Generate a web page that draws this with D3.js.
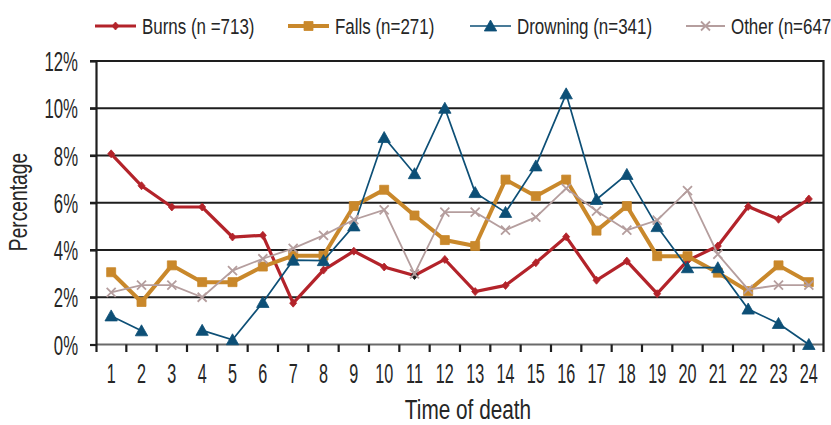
<!DOCTYPE html>
<html><head><meta charset="utf-8">
<script src="https://cdn.jsdelivr.net/npm/d3@7"></script>
<style>
body{margin:0;background:#fff}
svg{display:block}
text{font-family:"Liberation Sans",Arial,sans-serif;fill:#262626}
</style>
</head><body>
<svg id="c" width="831" height="425"></svg>
<script>
// ---- data ----
const hours = [1,2,3,4,5,6,7,8,9,10,11,12,13,14,15,16,17,18,19,20,21,22,23,24];
const burns = [8.07,6.72,5.82,5.82,4.55,4.62,1.75,3.15,3.95,3.28,2.92,3.6,2.24,2.5,3.46,4.56,2.72,3.53,2.15,3.55,4.17,5.84,5.3,6.16];
const falls = [3.06,1.8,3.35,2.64,2.64,3.3,3.76,3.76,5.86,6.55,5.46,4.42,4.17,6.98,6.28,6.98,4.82,5.86,3.74,3.74,3.04,2.26,3.35,2.64];
const drowning = [1.21,0.58,null,0.6,0.2,1.78,3.57,3.55,5.02,8.76,7.23,10.0,6.43,5.59,7.56,10.61,6.14,7.2,4.99,3.25,3.25,1.5,0.89,0.0];
const other = [2.21,2.51,2.51,2.0,3.13,3.63,4.07,4.62,5.28,5.7,2.99,5.6,5.6,4.84,5.39,6.61,5.65,4.84,5.26,6.51,3.82,2.33,2.51,2.51];
const seriesLabels = ["Burns (n =713)","Falls (n=271)","Drowning (n=341)","Other (n=647)"];
const yTicks = [0,2,4,6,8,10,12];
const xTitle = "Time of death";
const yTitle = "Percentage";

// ---- styles ----
const colors = ["#b3232a","#c9882b","#0d4f76","#b59e9e"];
const widths = [3.2,4,1.7,1.8];
const markers = ["diamond","square","triangle","cross"];

const svg = d3.select("#c");
const L = 96, R = 824, T = 61, B = 344.5;
const x = d3.scaleBand().domain(hours).range([L,R]);
const y = d3.scaleLinear().domain([0,12]).range([B,T]);
const cx = h => x(h) + x.bandwidth()/2;

function condense(sel, sx){
  sel.each(function(){
    const t = d3.select(this);
    const ax = +t.attr("x") || 0;
    const prev = t.attr("data-base") || "";
    t.attr("transform", `${prev} translate(${ax},0) scale(${sx},1) translate(${-ax},0)`);
  });
}

// gridlines
svg.append("g").selectAll("line").data(yTicks.filter(d=>d>0)).join("line")
  .attr("x1",L-6).attr("x2",R).attr("y1",d=>y(d)).attr("y2",d=>y(d))
  .attr("stroke","#1e1e1e").attr("stroke-width",2.2);

// baseline
svg.append("line").attr("x1",L).attr("x2",R).attr("y1",y(0)).attr("y2",y(0))
  .attr("stroke","#6a6a6a").attr("stroke-width",2);

// y axis
const ya = svg.append("g").attr("transform",`translate(${L},0)`)
  .call(d3.axisLeft(y).tickValues(yTicks).tickSize(6).tickPadding(12).tickFormat(d=>d+"%"));
ya.select(".domain").remove();
ya.selectAll(".tick line").attr("stroke","#1e1e1e").attr("stroke-width",2.2);
ya.selectAll(".tick text").attr("font-size",27).attr("font-family",null).attr("fill","#262626").attr("dy","0.36em");
condense(ya.selectAll(".tick text"),0.62);
svg.append("line").attr("x1",L+0.5).attr("x2",L+0.5).attr("y1",T-1).attr("y2",B+7.5)
  .attr("stroke","#1e1e1e").attr("stroke-width",2.2);
svg.append("line").attr("x1",R-0.5).attr("x2",R-0.5).attr("y1",T-1).attr("y2",B+7.5)
  .attr("stroke","#1e1e1e").attr("stroke-width",2.2);

// x ticks at band boundaries
const bounds = hours.map(h=>x(h)).concat([x(hours[hours.length-1])+x.bandwidth()]);
svg.append("g").selectAll("line").data(bounds.slice(1,-1)).join("line")
  .attr("x1",d=>d).attr("x2",d=>d).attr("y1",B).attr("y2",B+7.5)
  .attr("stroke","#1e1e1e").attr("stroke-width",2.2);

// x labels
const xa = svg.append("g").attr("transform",`translate(0,${B})`)
  .call(d3.axisBottom(x).tickSize(0).tickPadding(19));
xa.select(".domain").remove();
xa.selectAll(".tick text").attr("font-size",27).attr("font-family",null).attr("fill","#262626");
condense(xa.selectAll(".tick text"),0.6);

// titles
svg.append("text").attr("x",468).attr("y",419).attr("text-anchor","middle")
  .attr("font-size",27).text(xTitle)
  .attr("transform","translate(468,0) scale(0.77,1) translate(-468,0)");
svg.append("text").attr("text-anchor","middle").attr("font-size",25)
  .attr("transform","translate(27,202) rotate(-90) scale(0.77,1)").text(yTitle);

// marker shapes
function markerPath(type){
  switch(type){
    case "diamond": return "M0,-4L3.5,0L0,4L-3.5,0Z";
    case "square": return "M-4.5,-4.5H4.5V4.5H-4.5Z";
    case "triangle": return "M0,-6L6.2,5H-6.2Z";
    case "cross": return "M-4.5,-4.5L4.5,4.5M4.5,-4.5L-4.5,4.5";
  }
}

const series = [burns,falls,drowning,other];
const line = d3.line().defined(d=>d.v!=null).x(d=>cx(d.h)).y(d=>y(d.v));

series.forEach((vals,i)=>{
  const pts = hours.map((h,j)=>({h, v: vals[j]}));
  const g = svg.append("g");
  g.append("path").datum(pts).attr("d",line).attr("fill","none")
    .attr("stroke",colors[i]).attr("stroke-width",widths[i]).attr("stroke-linejoin","miter");
  g.selectAll("path.m").data(pts.filter(d=>d.v!=null)).join("path").attr("class","m")
    .attr("transform",d=>`translate(${cx(d.h)},${y(d.v)})`)
    .attr("d",markerPath(markers[i]))
    .attr("fill",markers[i]==="cross"?"none":(i===0 && d3.select ? null : colors[i]))
    .attr("stroke",colors[i]).attr("stroke-width",markers[i]==="cross"?1.8:0.8);
  if(i===0){
    g.selectAll("path.m").attr("fill",d=>d.h===11?"#1a1a1a":colors[0])
      .attr("stroke",d=>d.h===11?"#1a1a1a":colors[0]);
  }
});
// keep highlighted burns marker on top
svg.selectAll("path.m").filter(function(d){return d && d.h===11 && d3.select(this).attr("fill")==="#1a1a1a";}).raise();

// legend
const legX = [[95,136,142],[288,329,335],[470,511,517],[686,725,731]];
const lg = svg.append("g");
seriesLabels.forEach((lab,i)=>{
  const [a,b,t] = legX[i];
  lg.append("line").attr("x1",a).attr("x2",b).attr("y1",26).attr("y2",26)
    .attr("stroke",colors[i]).attr("stroke-width",widths[i]);
  lg.append("path").attr("transform",`translate(${(a+b)/2},26)`).attr("d",markerPath(markers[i]))
    .attr("fill",markers[i]==="cross"?"none":colors[i]).attr("stroke",colors[i])
    .attr("stroke-width",markers[i]==="cross"?1.8:0.8);
  lg.append("text").attr("x",t).attr("y",34).attr("font-size",22).text(lab)
    .attr("transform",`translate(${t},0) scale(0.77,1) translate(${-t},0)`);
});
</script>
</body></html>
